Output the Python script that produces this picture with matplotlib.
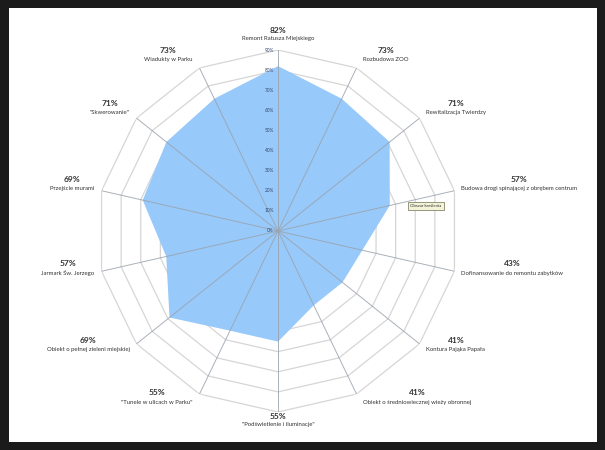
import numpy as np
import matplotlib.pyplot as plt

# dane
kategorie = [
    'Remont Ratusza Miejskiego',
    'Rozbudowa ZOO',
    'Rewitalizacja Twierdzy',
    'Budowa drogi spinającej z obrębem centrum',
    'Dofinansowanie do remontu zabytków',
    'Kontura Pająka Papała',
    'Obiekt o średniowiecznej wieży obronnej',
    '"Podświetlenie i iluminacje"',
    '"Tunele w ulicach w Parku"',
    'Obiekt o pełnej zieleni miejskiej',
    'Jarmark Św. Jerzego',
    'Przejście murami',
    '"Skwerowanie"',
    'Wiadukty w Parku',
]
wartosci = [82, 73, 71, 57, 43, 41, 41, 55, 55, 69, 57, 69, 71, 73]
poziomy = [0, 10, 20, 30, 40, 50, 60, 70, 80, 90]

plt.rcParams['font.family'] = ['Lato', 'DejaVu Sans']

n = len(kategorie)
katy = np.arange(n) * 2 * np.pi / n
katy_zam = np.append(katy, katy[0])
wart_zam = wartosci + wartosci[:1]

fig = plt.figure(figsize=(6.05, 4.5), dpi=100, facecolor='#1b1b1b')

# białe tło zrzutu ekranu
tlo = fig.add_axes([9 / 605, 8 / 450, 588 / 605, 434 / 450])
tlo.set_facecolor('white')
tlo.set_xticks([])
tlo.set_yticks([])
for s in tlo.spines.values():
    s.set_visible(False)

ax = fig.add_axes([97 / 605, 38 / 450, 362 / 605, 362 / 450], projection='polar')
ax.set_theta_zero_location('N')
ax.set_theta_direction(-1)
ax.set_ylim(0, 90)
ax.grid(False)
ax.set_xticks([])
ax.set_yticks([])
ax.spines['polar'].set_visible(False)
ax.patch.set_alpha(0)

# siatka wielokątna
for p in poziomy[1:]:
    ax.plot(katy_zam, [p] * (n + 1), color='#d6d6d6', lw=0.9, zorder=1)

# dane
ax.fill(katy_zam, wart_zam, color='#97c9fa', lw=0, zorder=2)

# szprychy
for k in katy:
    ax.plot([k, k], [0, poziomy[-1]], color='#9aa3ad', lw=0.7, alpha=0.85, zorder=3)

# etykiety osi promieniowej
for p in poziomy:
    ax.annotate(f'{p}%', xy=(0, p), xytext=(-3, 0), textcoords='offset points',
                ha='right', va='center', fontsize=3.4, color='#34456a', zorder=4)

# etykiety kategorii
for k, nazwa, w in zip(katy, kategorie, wartosci):
    s, c = np.sin(k), np.cos(k)
    proc = f'{w}%'
    if abs(s) < 0.1 and c > 0:
        t = ax.annotate(nazwa, xy=(k, 90), xytext=(0, 6.5), textcoords='offset points',
                        ha='center', va='bottom', fontsize=4.3, color='#333333')
        ax.annotate(proc, xy=(0.5, 1), xycoords=t, xytext=(0, 1.2), textcoords='offset points',
                    ha='center', va='bottom', fontsize=6, weight='bold', color='#333333')
    elif abs(s) < 0.1:
        t = ax.annotate(proc, xy=(k, 90), xytext=(0, -0.5), textcoords='offset points',
                        ha='center', va='top', fontsize=6, weight='bold', color='#333333')
        ax.annotate(nazwa, xy=(0.5, 0), xycoords=t, xytext=(0, -1.5), textcoords='offset points',
                    ha='center', va='top', fontsize=4.3, color='#333333')
    else:
        ha = 'left' if s > 0 else 'right'
        t = ax.annotate(nazwa, xy=(k, 90), xytext=(np.sign(s) * 5, c * 6.5),
                        textcoords='offset points', ha=ha, va='center',
                        fontsize=4.3, color='#333333')
        ax.annotate(proc, xy=(0.5, 1), xycoords=t, xytext=(0, 2.5), textcoords='offset points',
                    ha='center', va='bottom', fontsize=6, weight='bold', color='#333333')

# podpowiedź z Excela
fig.text(426 / 605, 1 - 206 / 450, 'Obszar kreślenia', fontsize=3.2, color='#333333',
         ha='center', va='center',
         bbox=dict(boxstyle='square,pad=0.5', fc='#f3f3d8', ec='#707050', lw=0.5))

fig.savefig('out.png', dpi=100, facecolor=fig.get_facecolor())
